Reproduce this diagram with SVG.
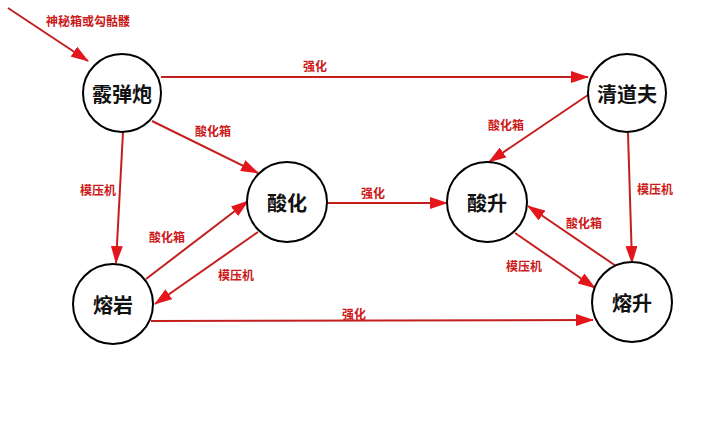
<svg xmlns="http://www.w3.org/2000/svg" width="724" height="433" viewBox="0 0 724 433">
<style>
.node circle{fill:#fff;stroke:#000;stroke-width:2}
.node text{font-family:"Noto Sans CJK SC","Noto Sans",sans-serif;font-size:20px;font-weight:bold;fill:#111;text-anchor:middle;dominant-baseline:central}
.edge line{stroke:#c41f1f;stroke-width:2;marker-end:url(#ah)}
.lbl{font-family:"Noto Sans CJK SC","Noto Sans",sans-serif;font-size:12px;font-weight:bold;fill:#cc1a1a;text-anchor:middle;dominant-baseline:central}
</style>
<defs>
<marker id="ah" markerWidth="18" markerHeight="12" refX="17" refY="6" orient="auto" markerUnits="userSpaceOnUse">
<path d="M0,0 L18,6 L0,12 Z" fill="#e3161b"/>
</marker>
</defs>
<rect width="724" height="433" fill="#fff"/>
<g id="connectors" class="edge">
<line x1="8" y1="8" x2="88" y2="61"/>
<line x1="161" y1="77" x2="588" y2="77"/>
<line x1="152" y1="121" x2="258" y2="173"/>
<line x1="123" y1="132" x2="116" y2="263"/>
<line x1="327" y1="203" x2="447" y2="203"/>
<line x1="146" y1="279" x2="248" y2="201"/>
<line x1="258" y1="232" x2="155" y2="304"/>
<line x1="151" y1="321" x2="593" y2="320"/>
<line x1="588" y1="95" x2="489" y2="162"/>
<line x1="628" y1="133" x2="632" y2="263"/>
<line x1="616" y1="266" x2="528" y2="206"/>
<line x1="515" y1="233" x2="595" y2="288"/>
</g>
<g id="labels">
<text class="lbl" x="88" y="20">神秘箱或勾骷髅</text>
<text class="lbl" x="315" y="65">强化</text>
<text class="lbl" x="213" y="130">酸化箱</text>
<text class="lbl" x="98" y="189">模压机</text>
<text class="lbl" x="373" y="192">强化</text>
<text class="lbl" x="167" y="236">酸化箱</text>
<text class="lbl" x="236" y="274">模压机</text>
<text class="lbl" x="354" y="313">强化</text>
<text class="lbl" x="506" y="124">酸化箱</text>
<text class="lbl" x="655" y="188">模压机</text>
<text class="lbl" x="584" y="222">酸化箱</text>
<text class="lbl" x="524" y="265">模压机</text>
</g>
<g id="n-xiandanpao" class="node"><circle cx="122" cy="93" r="39"/><text x="122" y="93">霰弹炮</text></g>
<g id="n-qingdaofu" class="node"><circle cx="627" cy="93" r="39"/><text x="627" y="93">清道夫</text></g>
<g id="n-suanhua" class="node"><circle cx="287" cy="202" r="40"/><text x="287" y="202">酸化</text></g>
<g id="n-suansheng" class="node"><circle cx="487" cy="202" r="40"/><text x="487" y="202">酸升</text></g>
<g id="n-rongyan" class="node"><circle cx="113" cy="304" r="40"/><text x="113" y="304">熔岩</text></g>
<g id="n-rongsheng" class="node"><circle cx="632" cy="302" r="40"/><text x="632" y="302">熔升</text></g>
</svg>
